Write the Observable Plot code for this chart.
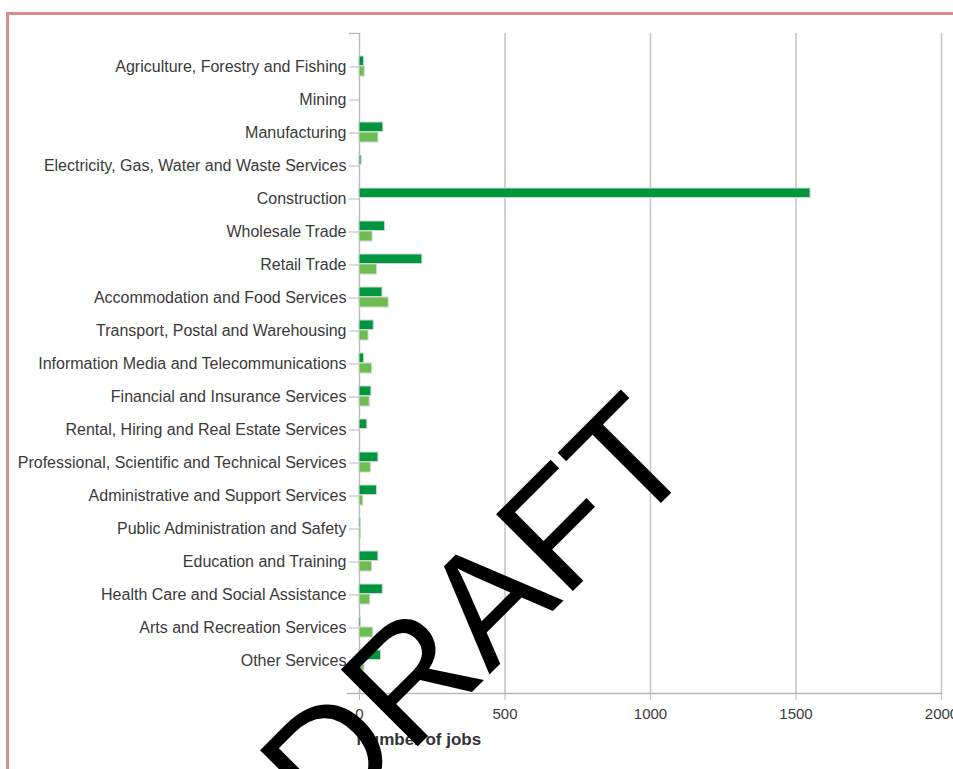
<!DOCTYPE html>
<html>
<head>
<meta charset="utf-8">
<script src="https://cdn.jsdelivr.net/npm/d3@7"></script>
<script src="https://cdn.jsdelivr.net/npm/@observablehq/plot@0.6"></script>
<style>
  html, body { margin: 0; padding: 0; background: #fff; }
  #wrap { position: relative; width: 953px; height: 769px; overflow: hidden; font-family: "Liberation Sans", Arial, sans-serif; }
  #border { position: absolute; left: 6px; top: 12px; width: 1000px; height: 900px; border-top: 3px solid #d98e8e; border-left: 3px solid #d98e8e; box-sizing: border-box; }
  #chart { position: absolute; left: 0; top: 0; }
  #draft { position: absolute; left: 0; top: 0; pointer-events: none; }
</style>
</head>
<body>
<div id="wrap">
  <div id="border"></div>
  <div id="chart"></div>
  <svg id="draft" width="953" height="769">
    <text x="514" y="650" transform="rotate(-45 514 650)" text-anchor="middle" font-family="Liberation Sans, Arial, sans-serif" font-size="158" fill="#000">DRAFT</text>
  </svg>
</div>
<script>
const industries = [
  "Agriculture, Forestry and Fishing",
  "Mining",
  "Manufacturing",
  "Electricity, Gas, Water and Waste Services",
  "Construction",
  "Wholesale Trade",
  "Retail Trade",
  "Accommodation and Food Services",
  "Transport, Postal and Warehousing",
  "Information Media and Telecommunications",
  "Financial and Insurance Services",
  "Rental, Hiring and Real Estate Services",
  "Professional, Scientific and Technical Services",
  "Administrative and Support Services",
  "Public Administration and Safety",
  "Education and Training",
  "Health Care and Social Assistance",
  "Arts and Recreation Services",
  "Other Services"
];
const seriesDark  = [16, 0, 82, 7, 1550, 88, 216, 79, 49, 16, 41, 27, 65, 60, 4, 65, 80, 5, 74];
const seriesLight = [18, 0, 65, 0, 0, 45, 60, 100, 31, 43, 35, 0, 39, 13, 5, 43, 37, 47, 17];
const xTicks = [0, 500, 1000, 1500, 2000];
const xTitle = "Number of jobs";

const darkColor = "#00963f";
const lightColor = "#6dbd52";

const rows = industries.map((name, i) => ({industry: name, dark: seriesDark[i], light: seriesLight[i]}));

const W = 953, H = 769, mL = 359, mR = 12, mT = 33, mB = 76;
const axisGray = "#b8b8b8";
const textColor = "#3a3a3a";

const chart = Plot.plot({
  width: W,
  height: H,
  marginLeft: mL,
  marginRight: mR,
  marginTop: mT,
  marginBottom: mB,
  style: {fontFamily: "'Liberation Sans', Arial, sans-serif", background: "transparent"},
  x: {domain: [0, 2000]},
  y: {domain: industries, paddingInner: 0, paddingOuter: 0.5},
  marks: [
    Plot.gridX(xTicks.slice(1), {stroke: "#c6c6c6", strokeOpacity: 1, strokeWidth: 1.6}),
    Plot.ruleX([0], {stroke: axisGray, strokeWidth: 1.4}),
    Plot.frame({anchor: "bottom", insetLeft: -12, stroke: axisGray, strokeWidth: 1.4}),
    Plot.frame({anchor: "top", insetLeft: -10, insetRight: W - mL - mR, stroke: axisGray, strokeWidth: 1.4}),
    Plot.axisY({tickSize: 10, tickPadding: 3, fontSize: 16, fill: textColor, stroke: axisGray, label: null}),
    Plot.axisX(xTicks, {tickSize: 7, tickPadding: 8, fontSize: 15, fill: textColor, stroke: axisGray, label: null, tickFormat: d3.format("d")}),
    Plot.barX(rows.filter(d => d.dark > 0), {y: "industry", x: "dark", fill: darkColor, insetTop: 6, insetBottom: 17.5, stroke: "#cfd6cf", strokeWidth: 1}),
    Plot.barX(rows.filter(d => d.light > 0), {y: "industry", x: "light", fill: lightColor, insetTop: 16, insetBottom: 7, stroke: "#cfd6cf", strokeWidth: 1}),
    Plot.text([xTitle], {frameAnchor: "bottom-left", dx: -3, dy: 51, textAnchor: "start", fontWeight: "bold", fontSize: 17, fill: "#333"})
  ]
});
document.getElementById("chart").appendChild(chart);
</script>
</body>
</html>
